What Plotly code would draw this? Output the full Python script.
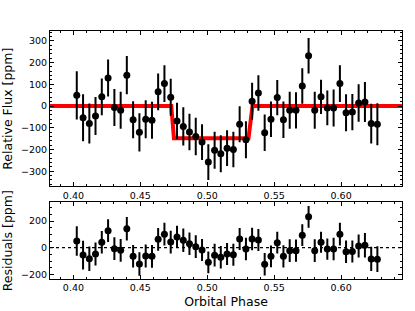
import plotly.graph_objects as go
from plotly.subplots import make_subplots

phase = [0.4025, 0.4072, 0.4119, 0.4165, 0.4212, 0.4259, 0.4306, 0.4353, 0.4399, 0.4446,
         0.4493, 0.4540, 0.4587, 0.4633, 0.4680, 0.4727, 0.4774, 0.4821, 0.4867, 0.4914,
         0.4961, 0.5008, 0.5055, 0.5101, 0.5148, 0.5195, 0.5242, 0.5289, 0.5335, 0.5382,
         0.5429, 0.5476, 0.5523, 0.5569, 0.5616, 0.5663, 0.5710, 0.5757, 0.5803, 0.5850,
         0.5897, 0.5944, 0.5991, 0.6037, 0.6084, 0.6131, 0.6178, 0.6225, 0.6271]
flux = [49, -54, -81, -46, 42, 129, -7, -20, 142, -63,
        -121, -61, -66, 65, 103, 40, -69, -94, -120, -140,
        -166, -258, -204, -220, -194, -200, -84, -155, 22, 60,
        -123, -61, 39, -63, -20, -20, 92, 231, -20, 42,
        -9, -9, 103, -31, -28, 14, 18, -81, -84]
flux_err = [111, 108, 92, 87, 85, 85, 85, 85, 88, 85,
            88, 87, 85, 85, 85, 85, 84, 88, 84, 86,
            82, 82, 85, 85, 82, 82, 83, 85, 85, 82,
            84, 82, 81, 84, 85, 83, 82, 82, 85, 79,
            80, 85, 85, 85, 83, 86, 92, 91, 97]
residuals = [50, -55, -83, -47, 41, 128, -7, -20, 142, -64,
             -122, -62, -65, 63, 102, 42, 81, 56, 30, 8,
             -17, -110, -56, -72, -47, -53, 65, -10, 65, 58,
             -124, -65, 38, -65, -22, -22, 94, 232, -22, 41,
             -10, -10, 102, -30, -29, 13, 19, -84, -86]
model_phase = [0.3825, 0.4731, 0.4751, 0.5308, 0.5338, 0.6455]
model_flux = [0, 0, -148, -148, 0, 0]

fig = make_subplots(rows=2, cols=1, row_heights=[0.67, 0.33], vertical_spacing=0.0645)

fig.add_trace(go.Scatter(x=model_phase, y=model_flux, mode="lines",
                         line=dict(color="#ff0000", width=4), showlegend=False), row=1, col=1)
fig.add_trace(go.Scatter(x=phase, y=flux, mode="markers",
                         marker=dict(color="black", size=7),
                         error_y=dict(type="data", array=flux_err, thickness=2, width=0, color="black"),
                         showlegend=False), row=1, col=1)
fig.add_trace(go.Scatter(x=[0.3825, 0.6455], y=[0, 0], mode="lines",
                         line=dict(color="black", width=1.3, dash="dot"), showlegend=False), row=2, col=1)
fig.add_trace(go.Scatter(x=phase, y=residuals, mode="markers",
                         marker=dict(color="black", size=7),
                         error_y=dict(type="data", array=flux_err, thickness=2, width=0, color="black"),
                         showlegend=False), row=2, col=1)

axcommon = dict(showline=True, linecolor="black", linewidth=1, mirror="allticks",
                ticks="inside", ticklen=4, tickcolor="black", showgrid=False, zeroline=False,
                automargin=False,
                tickfont=dict(family="DejaVu Sans", size=9.5, color="black"))
xcommon = dict(axcommon, range=[0.3825, 0.6455], dtick=0.05, tickformat=".2f",
               minor=dict(dtick=0.01, ticks="inside", ticklen=2, tickcolor="black"))

fig.update_xaxes(**xcommon, row=1, col=1)
fig.update_xaxes(**xcommon, row=2, col=1,
                 title=dict(text="Orbital Phase", font=dict(family="DejaVu Sans", size=12.5, color="black"), standoff=4))
fig.update_yaxes(**axcommon, range=[-370, 345], dtick=100,
                 minor=dict(dtick=20, ticks="inside", ticklen=2, tickcolor="black"),
                 title=dict(text="Relative Flux [ppm]", font=dict(family="DejaVu Sans", size=12.5, color="black"), standoff=5),
                 row=1, col=1)
fig.update_yaxes(**axcommon, range=[-235, 340], tickvals=[-200, 0, 200],
                 minor=dict(dtick=50, ticks="inside", ticklen=2, tickcolor="black"),
                 title=dict(text="Residuals [ppm]", font=dict(family="DejaVu Sans", size=12.5, color="black"), standoff=5),
                 row=2, col=1)

fig.update_layout(width=415, height=311, margin=dict(l=50, r=13, t=31, b=32),
                  paper_bgcolor="white", plot_bgcolor="white",
                  font=dict(family="DejaVu Sans", color="black"))

fig.write_html("out.html", config={"displayModeBar": False},
               post_script="document.body.style.margin='0';document.body.style.overflow='hidden';")
